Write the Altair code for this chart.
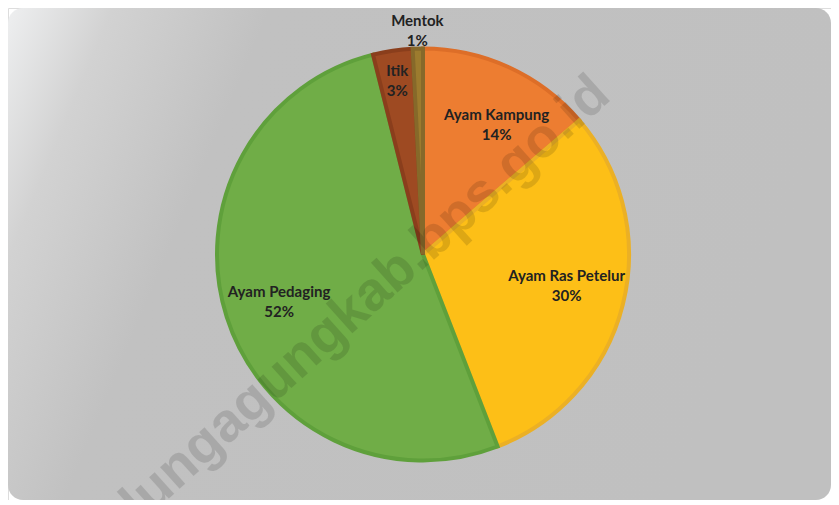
import altair as alt
import pandas as pd
import math

categories = ["Ayam Kampung", "Ayam Ras Petelur", "Ayam Pedaging", "Itik", "Mentok"]
values = [13.7, 30.4, 52.0, 3.1, 0.8]
fills = ["#ED7D31", "#FDBF17", "#70AD47", "#9E4A22", "#9C7B2E"]
strokes = ["#DD6E28", "#EBB025", "#5FA03B", "#8A3E1C", "#86692A"]
watermark = ["tulungagungkab.bps.go.id"]

W, H = 823, 492
CX, CY = 415, 246.5
R = 206
TOTAL = sum(values)

df = pd.DataFrame({"cat": categories, "val": values, "idx": list(range(len(categories)))})
bg_df = pd.DataFrame({"k": [0]})
wm_df = pd.DataFrame({"t": watermark})

gradient = {
    "gradient": "linear", "x1": 0, "y1": 0, "x2": 1, "y2": 0.25,
    "stops": [
        {"offset": 0, "color": "#EEEFF0"},
        {"offset": 0.12, "color": "#D2D2D2"},
        {"offset": 0.3, "color": "#C1C1C1"},
        {"offset": 1, "color": "#C0C0C0"},
    ],
}

bg = alt.Chart(bg_df).mark_rect(fill=gradient, cornerRadius=15).encode(
    x=alt.value(0), x2=alt.value(W), y=alt.value(0), y2=alt.value(H)
)

arcs = alt.Chart(df).mark_arc(radius=R, strokeWidth=4, x=CX, y=CY).encode(
    theta=alt.Theta("val:Q", stack=True),
    order=alt.Order("idx:Q", sort="ascending"),
    color=alt.Color("cat:N", scale=alt.Scale(domain=categories, range=fills), legend=None),
    stroke=alt.Stroke("cat:N", scale=alt.Scale(domain=categories, range=strokes), legend=None),
)

wm = alt.Chart(wm_df).mark_text(
    font="Liberation Sans", fontWeight="bold", fontSize=55, angle=318,
    align="center", baseline="middle", color="#000000", opacity=0.12,
).encode(x=alt.value(338), y=alt.value(308), text="t:N")

lab_base = alt.Chart(df).transform_stack(
    stack="val", groupby=[], as_=["s0", "s1"], sort=[alt.SortField("idx", order="ascending")]
).transform_calculate(
    mid="(datum.s0 + datum.s1) / 2",
    label="datum.cat + '\\n' + format(datum.val / 100, '.0%')",
)

def labels(filter_expr, radius, dx=0, dy=-10):
    return lab_base.transform_filter(filter_expr).mark_text(
        font="Lato", fontWeight="bold", fontSize=15, color="#222222",
        lineBreak="\n", lineHeight=20, align="center", baseline="middle",
        radius=radius, x=CX, y=CY, dx=dx, dy=dy,
    ).encode(
        theta=alt.Theta("mid:Q", scale=alt.Scale(domain=[0, TOTAL], range=[0, 2 * math.pi])),
        text="label:N",
    )

lab_kamp = labels("datum.idx == 0", 150, dx=11, dy=-3)
lab_ras = labels("datum.idx == 1", 148, dy=-14)
lab_ped = labels("datum.idx == 2", 151, dy=-8)
lab_itik = labels("datum.idx == 3", 175)
lab_mentok = labels("datum.idx == 4", 224)

chart = alt.layer(bg, arcs, wm, lab_kamp, lab_ras, lab_ped, lab_itik, lab_mentok).properties(
    width=W, height=H, padding=0, autosize=alt.AutoSizeParams(type="none")
).configure_view(stroke=None).configure(background="#FFFFFF")

chart.save("out.html", embed_options={"renderer": "svg", "actions": False})
